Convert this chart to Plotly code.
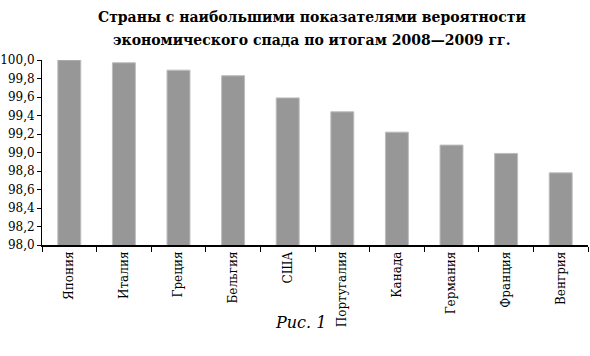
import plotly.graph_objects as go

categories = ["Япония", "Италия", "Греция", "Бельгия", "США", "Португалия",
              "Канада", "Германия", "Франция", "Венгрия"]
values = [100.0, 99.97, 99.89, 99.83, 99.59, 99.44, 99.22, 99.08, 98.99, 98.78]
y_ticks = [98.0, 98.2, 98.4, 98.6, 98.8, 99.0, 99.2, 99.4, 99.6, 99.8, 100.0]
title_lines = ["Страны с наибольшими показателями вероятности",
               "экономического спада по итогам 2008—2009 гг."]
caption = "Рис. 1"

serif = "DejaVu Serif"

fig = go.Figure(go.Bar(
    x=categories, y=values,
    marker=dict(color="#979797", line=dict(color="#bdbdbd", width=1)),
    width=0.42,
))

fig.update_layout(
    width=590, height=356,
    margin=dict(l=42, r=2, t=60, b=111),
    paper_bgcolor="white", plot_bgcolor="white",
    separators=", ",
    showlegend=False,
    font=dict(family=serif, size=12, color="black"),
)
fig.update_yaxes(
    range=[98.0, 100.0], tickvals=y_ticks, tickformat=".1f",
    showgrid=False, zeroline=False, automargin=False,
    showline=True, linecolor="black", linewidth=1,
    ticks="outside", ticklen=4, tickcolor="black",
    tickfont=dict(family=serif, size=12, color="black"),
)
fig.update_xaxes(
    showgrid=False, showline=True, linecolor="black", linewidth=1.5,
    ticks="outside", ticklen=5, tickcolor="black", tickson="boundaries",
    tickangle=-90, automargin=False,
    tickfont=dict(family=serif, size=12, color="black"),
)

fig.add_annotation(text="<b>" + title_lines[0] + "</b>",
                   xref="paper", yref="paper", x=0.494, y=1.0, yshift=43,
                   xanchor="center", yanchor="middle", showarrow=False,
                   font=dict(family=serif, size=14, color="black"))
fig.add_annotation(text="<b>" + title_lines[1] + "</b>",
                   xref="paper", yref="paper", x=0.494, y=1.0, yshift=20,
                   xanchor="center", yanchor="middle", showarrow=False,
                   font=dict(family=serif, size=14, color="black"))
fig.add_annotation(text="<i>" + caption + "</i>",
                   xref="paper", yref="paper", x=0.473, y=0, yshift=-77,
                   xanchor="center", yanchor="middle", showarrow=False,
                   font=dict(family=serif, size=16, color="black"))

fig.write_html("out.html",
               config={"displayModeBar": False},
               post_script="document.body.style.margin='0';document.body.style.overflow='hidden';")
